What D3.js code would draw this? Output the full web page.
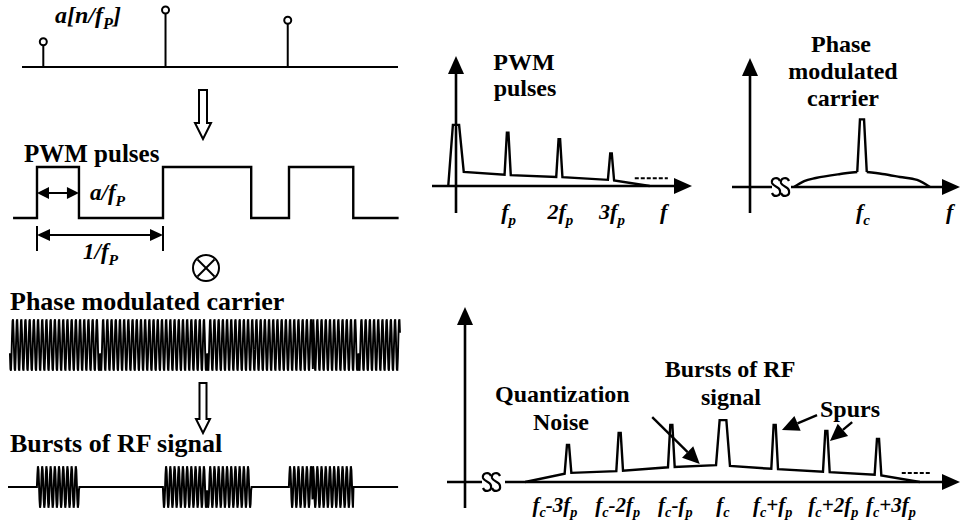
<!DOCTYPE html>
<html>
<head>
<meta charset="utf-8">
<script src="https://cdn.jsdelivr.net/npm/d3@7"></script>
<style>
  html, body { margin: 0; padding: 0; background: #fff; }
  svg { display: block; }
</style>
</head>
<body>
<svg id="chart" width="960" height="523"></svg>
<script>
// ---------------- data ----------------
// PWM samples a[n/fP]
const sampleTime = [0.05, 1.02, 1.99];
const sampleAmplitude = [0.42, 0.95, 0.78];

// PWM pulses: start of each pulse (in PWM periods) and its duty a
const pulseStart = [0, 1, 2];
const pulseDuty = [0.333, 0.70, 0.51];

// phase modulated carrier: cycles per PWM period and phase-jump instants
const carrierCyclesPerPeriod = 30;
const carrierPhaseJumps = [0.5, 1.35, 2.19, 2.55];

// spectrum of the PWM pulses (harmonics of fP)
const pwmHarmonic = [0, 1, 2, 3];
const pwmPeak = [0.47, 0.41, 0.36, 0.25];
const pwmBaseHalf = [0.15, 0.06, 0.06, 0.06];
const pwmTopHalf = [0.06, 0.015, 0.015, 0.015];
const pwmFloorAt = [-0.15, 0.15, 1, 2, 3, 3.75];
const pwmFloorLevel = [0, 0.108, 0.085, 0.069, 0.046, 0];
const pwmTickLabels = ["f_p", "2f_p", "3f_p"];

// spectrum of the phase modulated carrier (offset from fc)
const carrierFloorAt = [-1, -0.85, -0.68, -0.32, -0.07, 0.07, 0.3, 0.56, 0.81, 1];
const carrierFloorLevel = [0, 0.045, 0.069, 0.1, 0.115, 0.115, 0.1, 0.077, 0.054, 0];
const carrierPeak = 0.52;
const carrierPeakBaseHalf = 0.07;
const carrierPeakTopHalf = 0.03;

// spectrum of the RF bursts (fc + k fP)
const rfHarmonic = [-3, -2, -1, 0, 1, 2, 3];
const rfPeak = [0.206, 0.272, 0.317, 0.344, 0.317, 0.283, 0.239];
const rfBaseHalf = [0.065, 0.065, 0.065, 0.135, 0.065, 0.065, 0.065];
const rfTopHalf = [0.02, 0.02, 0.02, 0.065, 0.02, 0.02, 0.02];
const rfFloorAt = [-3.83, -3, -2, -1, -0.135, 0.135, 1, 2, 3, 3.81];
const rfFloorLevel = [0, 0.05, 0.061, 0.083, 0.094, 0.089, 0.072, 0.056, 0.039, 0];
const rfTickLabels = ["f_c-3f_p", "f_c-2f_p", "f_c-f_p", "f_c", "f_c+f_p", "f_c+2f_p", "f_c+3f_p"];

// ---------------- helpers ----------------
const FONT = '"Liberation Serif"';
const svg = d3.select("#chart");
const BLACK = "#000";

// label made of plain runs and one-character subscripts ("_x"),
// each run is its own text element placed after the previous one
function richText(parent, str, x, y, size, opts = {}) {
  const runs = [];
  let buf = "";
  for (let i = 0; i < str.length; i++) {
    if (str[i] === "_") {
      if (buf) runs.push({ s: buf, sub: false });
      buf = "";
      runs.push({ s: str[i + 1], sub: true });
      i++;
    } else buf += str[i];
  }
  if (buf) runs.push({ s: buf, sub: false });

  const g = parent.append("g");
  const subSize = size * 0.68, drop = size * 0.26;
  let cx = 0;
  runs.forEach(r => {
    const t = g.append("text")
      .attr("x", cx).attr("y", r.sub ? drop : 0)
      .attr("fill", BLACK)
      .style("font-family", FONT)
      .style("font-weight", "bold")
      .style("font-size", (r.sub ? subSize : size) + "px")
      .style("white-space", "pre")
      .text(r.s);
    if (opts.italic) t.style("font-style", "italic");
    cx += t.node().getComputedTextLength();
  });
  const shift = opts.anchor === "middle" ? -cx / 2 : 0;
  g.attr("transform", `translate(${x + shift},${y})`);
  return g;
}

function line(g, x1, y1, x2, y2, w) {
  return g.append("line").attr("x1", x1).attr("y1", y1).attr("x2", x2).attr("y2", y2)
    .attr("stroke", BLACK).attr("stroke-width", w || 2);
}

function arrowHead(g, x1, y1, x2, y2, len, half) {
  const a = Math.atan2(y2 - y1, x2 - x1);
  const bx = x2 - len * Math.cos(a), by = y2 - len * Math.sin(a);
  const px = -Math.sin(a) * half, py = Math.cos(a) * half;
  g.append("path").attr("d", `M${x2},${y2}L${bx + px},${by + py}L${bx - px},${by - py}Z`).attr("fill", BLACK);
  return [bx, by];
}

function arrow(g, x1, y1, x2, y2, len, half, w) {
  const [bx, by] = arrowHead(g, x1, y1, x2, y2, len, half);
  line(g, x1, y1, bx, by, w);
}

function doubleArrow(g, x1, x2, y, len, half, w) {
  arrowHead(g, x2, y, x1, y, len, half);
  arrowHead(g, x1, y, x2, y, len, half);
  line(g, x1 + len * 0.8, y, x2 - len * 0.8, y, w);
}

// hollow block arrow pointing down
function blockArrow(g, cx, y0, y1, shaftHalf, headHalf, headLen) {
  const yh = y1 - headLen;
  g.append("path")
    .attr("d", `M${cx - shaftHalf},${y0}L${cx + shaftHalf},${y0}L${cx + shaftHalf},${yh}L${cx + headHalf},${yh}L${cx},${y1}L${cx - headHalf},${yh}L${cx - shaftHalf},${yh}Z`)
    .attr("fill", "#fff").attr("stroke", BLACK).attr("stroke-width", 2).attr("stroke-linejoin", "miter");
}

// "SS" axis break
function axisBreak(g, x, y) {
  [0, 9].forEach(dx => {
    const c = x + dx;
    g.append("path")
      .attr("d", `M${c + 4},${y - 6}C${c + 2},${y - 11} ${c - 5},${y - 9} ${c - 4},${y - 4}C${c - 3},${y} ${c + 4},${y - 1} ${c + 4},${y + 4}C${c + 5},${y + 9} ${c - 2},${y + 11} ${c - 4},${y + 6}`)
      .attr("fill", "none").attr("stroke", BLACK).attr("stroke-width", 2.2);
  });
}

// spectrum outline: noise floor with narrow spikes
function spectrumPoints(harm, peak, baseHalf, topHalf, floor, start, end) {
  const pts = [[start, floor(start)]];
  harm.forEach((k, i) => {
    const b = baseHalf[i], t = topHalf[i];
    pts.push([k - b, floor(k - b)], [k - t, peak[i]], [k + t, peak[i]], [k + b, floor(k + b)]);
  });
  pts.push([end, floor(end)]);
  return pts;
}

// ---------------- left column: time-domain waveforms ----------------
const left = svg.append("g");
const xt = d3.scaleLinear().domain([0, 1]).range([37, 163]);

// samples a[n/fP]
const yStem = d3.scaleLinear().domain([0, 1]).range([67, 7]);
line(left, 22, yStem(0), 398, yStem(0), 2.2);
sampleTime.forEach((t, i) => {
  line(left, xt(t), yStem(0), xt(t), yStem(sampleAmplitude[i]) + 3.5, 2);
  left.append("circle").attr("cx", xt(t)).attr("cy", yStem(sampleAmplitude[i])).attr("r", 3.5)
    .attr("fill", "#fff").attr("stroke", BLACK).attr("stroke-width", 2);
});
richText(left, "a[n/f_P]", 55, 23, 24, { italic: true });

blockArrow(left, 203, 90, 139, 4, 8, 16);

// PWM pulses
const yp = d3.scaleLinear().domain([0, 1]).range([218, 167]);
const pwmPts = [[-0.19, 0]];
pulseStart.forEach((s, i) => {
  pwmPts.push([s, 0], [s, 1], [s + pulseDuty[i], 1], [s + pulseDuty[i], 0]);
});
pwmPts.push([2.87, 0]);
left.append("path")
  .attr("d", d3.line().x(d => xt(d[0])).y(d => yp(d[1]))(pwmPts))
  .attr("fill", "none").attr("stroke", BLACK).attr("stroke-width", 2.4);
richText(left, "PWM pulses", 24, 162, 25);

doubleArrow(left, xt(pulseStart[0]), xt(pulseStart[0] + pulseDuty[0]), 193, 12, 6, 2);
richText(left, "a/f_P", 90, 200, 23, { italic: true });
line(left, xt(0), 226, xt(0), 251, 2);
line(left, xt(1), 226, xt(1), 251, 2);
doubleArrow(left, xt(0), xt(1), 235, 13, 6, 2);
richText(left, "1/f_P", 83, 259, 23, { italic: true });

// multiplier
left.append("circle").attr("cx", 206).attr("cy", 268).attr("r", 13)
  .attr("fill", "none").attr("stroke", BLACK).attr("stroke-width", 2);
line(left, 206 - 8.5, 268 - 8.5, 206 + 8.5, 268 + 8.5, 2);
line(left, 206 + 8.5, 268 - 8.5, 206 - 8.5, 268 + 8.5, 2);

// phase modulated carrier
function carrierPhase(t) {
  const jumps = carrierPhaseJumps.filter(j => j <= t).length;
  return 2 * Math.PI * carrierCyclesPerPeriod * t + Math.PI * jumps;
}
function pulseOn(t) {
  return pulseStart.some((s, i) => t >= s && t <= s + pulseDuty[i]);
}
const dt = 1 / (carrierCyclesPerPeriod * 8);
const carrierPts = d3.range(-0.215, 2.885, dt).map(t => [t, Math.sin(carrierPhase(t))]);
const yc = d3.scaleLinear().domain([-1, 1]).range([372, 318]);
left.append("path")
  .attr("d", d3.line().x(d => xt(d[0])).y(d => yc(d[1]))(carrierPts))
  .attr("fill", "none").attr("stroke", BLACK).attr("stroke-width", 1.9);
richText(left, "Phase modulated carrier", 10, 310, 26);

blockArrow(left, 203, 383, 433, 3.5, 7, 14);

// RF bursts = carrier gated by PWM pulses
const burstPts = d3.range(-0.23, 2.87, dt).map(t => [t, pulseOn(t) ? Math.sin(carrierPhase(t)) : 0]);
const yb = d3.scaleLinear().domain([-1, 1]).range([508, 466]);
left.append("path")
  .attr("d", d3.line().x(d => xt(d[0])).y(d => yb(d[1]))(burstPts))
  .attr("fill", "none").attr("stroke", BLACK).attr("stroke-width", 2);
richText(left, "Bursts of RF signal", 10, 452, 26);

// ---------------- top middle: PWM spectrum ----------------
const gP = svg.append("g");
const xP = d3.scaleLinear().domain([0, 3]).range([456, 611]);
const yP = d3.scaleLinear().domain([0, 1]).range([186, 56]);
const pwmFloor = d3.scaleLinear().domain(pwmFloorAt).range(pwmFloorLevel).clamp(true);
line(gP, 432, yP(0), 675, yP(0), 2.6);
arrowHead(gP, 432, yP(0), 692, yP(0), 18, 8);
line(gP, xP(0), 213, xP(0), 72, 2.6);
arrowHead(gP, xP(0), 213, xP(0), 56, 18, 8);
gP.append("path")
  .attr("d", d3.line().x(d => xP(d[0])).y(d => yP(d[1]))(
    spectrumPoints(pwmHarmonic, pwmPeak, pwmBaseHalf, pwmTopHalf, pwmFloor, -0.15, 3.75)))
  .attr("fill", "none").attr("stroke", BLACK).attr("stroke-width", 2.4).attr("stroke-linejoin", "miter");
line(gP, xP(3.46), yP(0.06), xP(4.1), yP(0.06), 2).attr("stroke-dasharray", "4,2");
pwmTickLabels.forEach((lab, i) => richText(gP, lab, xP(i + 1) + 1, 219, 22, { italic: true, anchor: "middle" }));
richText(gP, "f", xP(4) + 1, 219, 22, { italic: true, anchor: "middle" });
richText(gP, "PWM", 524, 70, 24, { anchor: "middle" });
richText(gP, "pulses", 525, 96, 24, { anchor: "middle" });

// ---------------- top right: carrier spectrum ----------------
const gC = svg.append("g");
const xC = d3.scaleLinear().domain([-1, 1]).range([794, 930]);
const yC = d3.scaleLinear().domain([0, 1]).range([187, 57]);
const carrierFloor = d3.scaleLinear().domain(carrierFloorAt).range(carrierFloorLevel).clamp(true);
line(gC, 732, yC(0), 772, yC(0), 2.6);
line(gC, 791, yC(0), 944, yC(0), 2.6);
arrowHead(gC, 791, yC(0), 960, yC(0), 18, 8);
axisBreak(gC, 776, yC(0));
line(gC, 750, 213, 750, 75, 2.6);
arrowHead(gC, 750, 213, 750, 58, 18, 8);
const arcLine = d3.line().x(d => xC(d[0])).y(d => yC(d[1])).curve(d3.curveMonotoneX);
const leftArc = carrierFloorAt.filter(o => o <= -carrierPeakBaseHalf).map(o => [o, carrierFloor(o)]);
const rightArc = carrierFloorAt.filter(o => o >= carrierPeakBaseHalf).map(o => [o, carrierFloor(o)]);
const spike = [[-carrierPeakBaseHalf, carrierFloor(-carrierPeakBaseHalf)], [-carrierPeakTopHalf, carrierPeak],
  [carrierPeakTopHalf, carrierPeak], [carrierPeakBaseHalf, carrierFloor(carrierPeakBaseHalf)]];
[leftArc, rightArc].forEach(p => gC.append("path").attr("d", arcLine(p))
  .attr("fill", "none").attr("stroke", BLACK).attr("stroke-width", 2.4));
gC.append("path").attr("d", d3.line().x(d => xC(d[0])).y(d => yC(d[1]))(spike))
  .attr("fill", "none").attr("stroke", BLACK).attr("stroke-width", 2.4);
richText(gC, "f_c", xC(0) + 1, 219, 22, { italic: true, anchor: "middle" });
richText(gC, "f", 946, 219, 22, { italic: true });
richText(gC, "Phase", 841, 52, 24, { anchor: "middle" });
richText(gC, "modulated", 843, 79, 24, { anchor: "middle" });
richText(gC, "carrier", 843, 106, 24, { anchor: "middle" });

// ---------------- bottom right: spectrum of RF bursts ----------------
const gR = svg.append("g");
const xR = d3.scaleLinear().domain([-3, 3]).range([568, 878]);
const yR = d3.scaleLinear().domain([0, 1]).range([482, 302]);
const rfFloor = d3.scaleLinear().domain(rfFloorAt).range(rfFloorLevel).clamp(true);
line(gR, 447, yR(0), 482, yR(0), 2.6);
line(gR, 505, yR(0), 944, yR(0), 2.6);
arrowHead(gR, 505, yR(0), 960, yR(0), 18, 8);
axisBreak(gR, 487, yR(0));
line(gR, 465, 508, 465, 325, 2.6);
arrowHead(gR, 465, 508, 465, 307, 18, 8);
gR.append("path")
  .attr("d", d3.line().x(d => xR(d[0])).y(d => yR(d[1]))(
    spectrumPoints(rfHarmonic, rfPeak, rfBaseHalf, rfTopHalf, rfFloor, rfFloorAt[0], rfFloorAt[rfFloorAt.length - 1])))
  .attr("fill", "none").attr("stroke", BLACK).attr("stroke-width", 2.4).attr("stroke-linejoin", "miter");
line(gR, xR(3.46), yR(0.05), xR(4.04), yR(0.05), 2).attr("stroke-dasharray", "4,2");
const rfLabelNudge = [-13, -2, 4, 0, -2, 7, 13];
rfTickLabels.forEach((lab, i) => richText(gR, lab, xR(rfHarmonic[i]) + rfLabelNudge[i], 512, 21, { italic: true, anchor: "middle" }));

richText(gR, "Quantization", 495, 402, 24);
richText(gR, "Noise", 561, 430, 24, { anchor: "middle" });
richText(gR, "Bursts of RF", 730, 377, 24, { anchor: "middle" });
richText(gR, "signal", 731, 405, 24, { anchor: "middle" });
richText(gR, "Spurs", 820, 417, 24);

// annotation arrows (in spectrum units)
arrow(gR, xR(-1.37), yR(0.36), xR(-0.45), yR(0.1), 17, 8, 2.4);
arrow(gR, xR(1.82), yR(0.372), xR(1.14), yR(0.289), 17, 8, 2.4);
arrow(gR, xR(2.5), yR(0.333), xR(2.07), yR(0.228), 17, 8, 2.4);
</script>
</body>
</html>
